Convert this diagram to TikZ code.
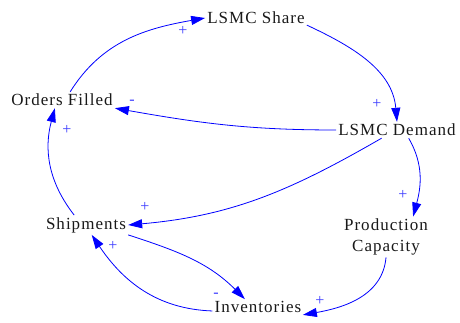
\documentclass[tikz,border=0pt]{standalone}
\usepackage{fontspec}
\setmainfont{Liberation Serif}
\newfontfamily\nodefont[LetterSpace=6]{Liberation Serif}
\usetikzlibrary{arrows.meta}
\definecolor{lnk}{RGB}{0,0,255}
\definecolor{pol}{RGB}{60,60,255}
\tikzset{
  var/.style={font=\nodefont\fontsize{17}{21}\selectfont, inner sep=2pt, text=black!90},
  lk/.style={draw=lnk, line width=0.8pt, -{Triangle[length=14pt,width=9pt]}},
  sg/.style={text=pol, font=\fontsize{16}{16}\selectfont, inner sep=0pt}
}
\begin{document}
\begin{tikzpicture}[x=1pt,y=1pt]
\useasboundingbox (0,0) rectangle (460,323);
\node[var] (share) at (256,305) {LSMC Share};
\node[var] (of) at (62,223) {Orders Filled};
\node[var] (dem) at (397,193) {LSMC Demand};
\node[var] (ship) at (86,98) {Shipments};
\node[var, align=center] (prod) at (386,86) {Production\\Capacity};
\node[var] (inv) at (258,16) {Inventories};

\draw[lk] (of.45) to[out=58,in=190] (share.west);
\draw[lk] (share.-8) to[out=-25,in=95] (dem.north);
\draw[lk] (dem.west) to[out=180,in=-10] (of.south east);
\draw[lk] (dem.-152) to[out=-150,in=5] (ship.east);
\draw[lk] (dem.-35) to[out=-60,in=75] (prod.37);
\draw[lk] (ship.140) to[out=128,in=-105] (of.-131);
\draw[lk] (ship.south east) to[out=-18,in=135] (inv.149);
\draw[lk] (prod.south) to[out=-95,in=10] (inv.-10);
\draw[lk] (inv.185) to[out=178,in=-56] (ship.-60);

\node[sg] (s1) at (183,292) {+};
\node[sg] (s2) at (377,219) {+};
\node[sg] (s3) at (132,221) {-};
\node[sg] (s4) at (145,116) {+};
\node[sg] (s5) at (403,128) {+};
\node[sg] (s6) at (67,193) {+};
\node[sg] (s7) at (216,28) {-};
\node[sg] (s8) at (320,22) {+};
\node[sg] (s9) at (113,77) {+};
\end{tikzpicture}
\end{document}
